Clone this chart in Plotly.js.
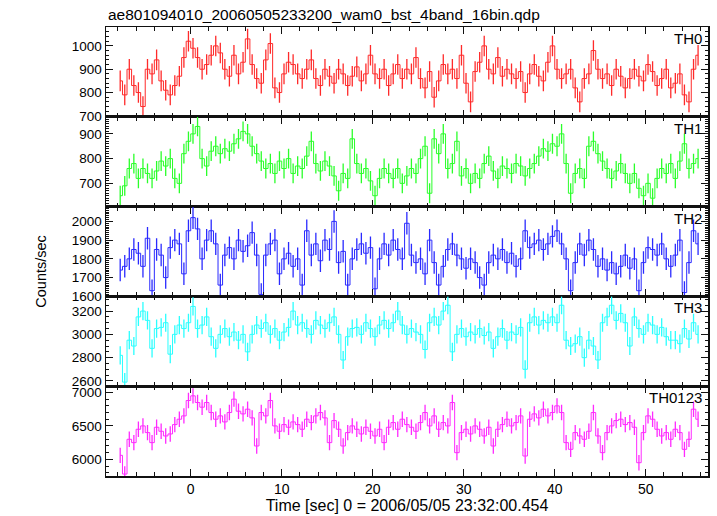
<!DOCTYPE html>
<html>
<head>
<meta charset="utf-8">
<script src="https://cdn.plot.ly/plotly-3.0.1.min.js"></script>
<style>html,body{margin:0;padding:0;background:#fff;}#chart{width:717px;height:516px;}</style>
</head>
<body>
<div id="chart"></div>
<script>
// ---- data ----
const chartTitle = "ae801094010_20060505233200_wam0_bst_4band_16bin.qdp";
const xTitle = "Time [sec] 0 = 2006/05/05 23:32:00.454";
const yTitle = "Counts/sec";
const bandNames = ["TH0", "TH1", "TH2", "TH3", "TH0123"];
const binStart = -7.75;   // centre of first bin [s]
const binWidth = 0.5;     // bin width [s]

const th0 = [
 850,790,900,830,800,740,900,880,940,850,810,790,830,870,950,1020,
 990,950,900,920,960,1000,970,900,870,960,880,930,1030,920,860,840,
 940,1010,820,800,880,930,920,880,860,900,940,860,830,900,870,840,
 900,880,830,870,910,850,880,960,880,860,900,830,880,920,860,900,
 880,950,860,820,890,780,850,920,880,900,860,960,840,760,890,930,
 1000,900,880,950,870,900,880,860,890,800,880,920,870,850,930,1000,
 900,860,880,900,820,760,860,880,980,900,860,880,830,900,870,820,
 860,900,870,850,920,890,830,860,900,820,840,880,790,760,900,960
];
const th1 = [
 650,690,760,780,720,760,740,720,750,790,770,800,720,700,820,870,
 900,930,800,770,830,850,820,840,830,860,880,910,900,850,820,790,
 760,780,740,790,760,800,740,770,760,810,870,780,750,790,770,730,
 670,740,720,880,780,740,760,710,650,720,760,740,720,760,700,730,
 760,740,800,850,660,880,820,900,760,780,870,730,760,700,740,720,
 780,810,750,720,770,760,740,780,770,730,760,780,810,840,830,860,
 850,900,780,660,740,760,720,850,870,820,790,760,720,750,780,740,
 700,740,680,650,700,640,720,760,740,780,720,790,860,760,780,800
];
const th2 = [
 1740,1760,1800,1850,1830,1760,1910,1630,1850,1820,1700,1860,1900,1880,1720,1950,
 2020,1960,1800,1900,1950,1880,1660,1820,1860,1800,1900,1840,1870,1940,1820,1610,
 1820,1880,1900,1720,1800,1830,1760,1800,1660,1950,1820,1880,1790,1900,1850,2000,
 1780,1840,1660,1800,1850,1880,1830,1860,1640,1800,1880,1820,1900,1850,1800,1990,
 1820,1780,1800,1720,1900,1780,1660,1760,1850,1880,1820,1800,1750,1800,1780,1700,
 1660,1780,1820,1800,1850,1780,1830,1760,1800,1950,1860,1880,1900,1850,1880,1920,
 1950,1880,1800,1630,1780,1880,1820,1900,1850,1760,1800,1740,1780,1720,1760,1820,
 1750,1800,1630,1780,1860,1850,1820,1880,1800,1760,1820,1900,1620,1780,1950,1880
];
const th3 = [
 2820,2590,2950,2900,3150,3200,3120,2880,3050,3060,3100,2830,3000,3080,3050,3100,
 3240,3050,3080,3150,2980,2880,3000,3050,2980,3020,2950,3000,2850,3000,3080,3050,
 3100,3000,3050,2950,3020,3060,3200,3080,3100,3050,3000,3120,3080,3050,3100,3150,
 3000,2780,2980,3050,3060,3000,3100,3050,2980,3080,3120,3050,3100,3200,3080,3000,
 3050,3020,3000,2870,3100,3150,3080,3200,3250,2850,3000,3050,2980,3020,3000,3050,
 2990,3020,2880,2980,3050,2950,3020,3000,3060,2700,3100,3150,3080,3120,3100,3150,
 3100,3250,2950,2900,2920,2980,2800,2950,2900,2780,3100,3150,3250,3120,3180,3100,
 2900,3150,3050,3000,3100,3080,3000,3060,2980,2950,2950,2920,3050,2960,3100,3000
];
const th0123 = [
 6060,5780,6300,6250,6450,6500,6400,6250,6480,6420,6350,6380,6520,6600,6650,6880,
 6950,6850,6780,6850,6700,6600,6650,6560,6700,6900,6720,6680,6750,6620,6200,6700,
 6650,6880,6500,6420,6520,6480,6560,6520,6450,6600,6550,6650,6700,6620,6250,6580,
 6450,6200,6400,6500,6450,6380,6480,6420,6350,6450,6250,6480,6550,6450,6600,6520,
 6480,6420,6550,6700,6500,6650,6450,6550,6500,6850,6100,6400,6450,6380,6500,6450,
 6350,6480,6200,6450,6520,6600,6500,6550,6650,6050,6600,6680,6620,6750,6650,6700,
 6800,6700,6250,6150,6400,6350,6300,6420,6700,6350,6100,6400,6500,6580,6600,6520,
 6550,6480,5950,6400,6650,6600,6450,6350,6400,6300,6450,6400,6150,6300,6750,6600
];
// typical half-length of the error bars in each band
const bandErrors = [44, 40, 60, 78, 115];

// ---- styling ----
const seriesList = [th0, th1, th2, th3, th0123];
const colors = ["#ff2a2a", "#2aff2a", "#2a2aff", "#2affff", "#ff2aff"];
const yRanges = [[696, 1081], [606, 969], [1599.5, 2079], [2555, 3326], [5751, 7094]];
const yDticks = [100, 100, 100, 200, 500];
const yMinor = [20, 10, 10, 50, 100];
const xRange = [-9.31, 56.84];
const FONT = "Liberation Sans, Arial, Helvetica, sans-serif";

const times = th0.map((_, i) => binStart + i * binWidth);

const traces = [];
const layout = {
  width: 717, height: 516,
  margin: {l: 106, r: 9, t: 27, b: 40},
  paper_bgcolor: "#fff", plot_bgcolor: "#fff",
  showlegend: false,
  font: {family: FONT, size: 13, color: "#000"},
  annotations: [],
};
const n = bandNames.length;
for (let k = 0; k < n; k++) {
  const sfx = k === 0 ? "" : String(k + 1);
  traces.push({
    type: "scatter", mode: "lines",
    x: times, y: seriesList[k],
    xaxis: "x" + sfx, yaxis: "y" + sfx,
    line: {color: colors[k], width: 1, shape: "hvh"},
    error_y: {type: "constant", value: bandErrors[k], color: colors[k], thickness: 1.3, width: 0},
    hoverinfo: "skip",
  });
  const top = 1 - k / n, bot = 1 - (k + 1) / n;
  layout["xaxis" + sfx] = {
    domain: [0, 1], anchor: "y" + sfx, range: xRange,
    showline: true, linecolor: "#111", linewidth: 1.5, mirror: "ticks",
    ticks: "inside", ticklen: 7, tickwidth: 1, tickcolor: "#111",
    tick0: 0, dtick: 10,
    minor: {ticks: "inside", dtick: 2, ticklen: 4, tickcolor: "#111", tickwidth: 1},
    showgrid: false, zeroline: false,
    showticklabels: k === n - 1,
    tickfont: {family: FONT, size: 14, color: "#000"},
    matches: k === 0 ? undefined : "x",
  };
  layout["yaxis" + sfx] = {
    domain: [bot, top], anchor: "x" + sfx, range: yRanges[k],
    showline: true, linecolor: "#111", linewidth: 1.5, mirror: "ticks",
    ticks: "inside", ticklen: 7, tickwidth: 1, tickcolor: "#111",
    tick0: 0, dtick: yDticks[k], tickformat: "d",
    minor: {ticks: "inside", dtick: yMinor[k], ticklen: 3, tickcolor: "#111", tickwidth: 1},
    showgrid: false, zeroline: false,
    tickfont: {family: FONT, size: 13.5, color: "#000"},
  };
  layout.annotations.push({
    text: bandNames[k], xref: "paper", yref: "paper",
    x: 0.993, y: top, xanchor: "right", yanchor: "top", yshift: -1,
    showarrow: false, font: {family: FONT, size: 15, color: "#000"},
  });
}
layout.xaxis5.title = {text: xTitle, font: {family: FONT, size: 16, color: "#000"}, standoff: 3};
layout.annotations.push({
  text: chartTitle, xref: "paper", yref: "paper",
  x: 0, y: 1, xanchor: "left", yanchor: "bottom", yshift: 2,
  showarrow: false, font: {family: FONT, size: 15.5, color: "#000"},
});
layout.annotations.push({
  text: yTitle, xref: "paper", yref: "paper",
  x: 0, y: 0.455, xanchor: "center", yanchor: "middle", xshift: -65, textangle: -90,
  showarrow: false, font: {family: FONT, size: 14.5, color: "#000"},
});

Plotly.newPlot("chart", traces, layout, {staticPlot: true, displayModeBar: false});
</script>
</body>
</html>
